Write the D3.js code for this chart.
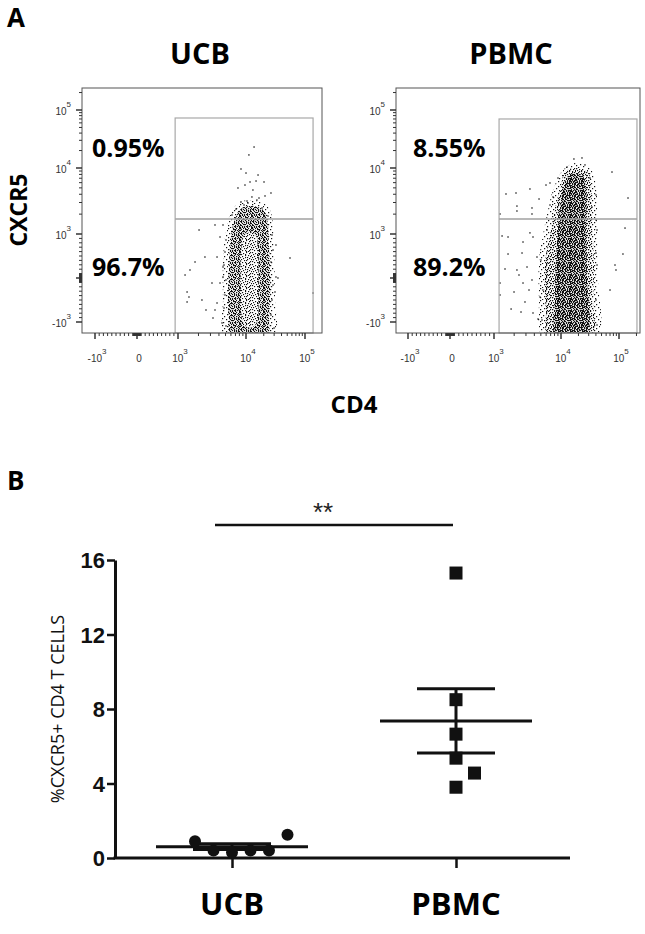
<!DOCTYPE html>
<html><head><meta charset="utf-8">
<script src="https://cdn.jsdelivr.net/npm/d3@7"></script>
<style>body{margin:0;background:#fff}svg{display:block}</style>
</head><body>
<svg id="c" width="645" height="934"></svg>
<script>
// ================= DATA =================
// Panel A: flow cytometry (CD4 vs CXCR5)
const flowSamples = ["UCB", "PBMC"];
const upperPct = [0.95, 8.55];   // CXCR5+ quadrant
const lowerPct = [96.7, 89.2];   // CXCR5- quadrant
const axisMajorTicks = [-1000, 0, 1000, 10000, 100000];
const xTickLabels = [["-10", "3"], ["0", ""], ["10", "3"], ["10", "4"], ["10", "5"]];
const yTickValues = [-1000, 1000, 10000, 100000];
const yTickLabels = [["-10", "3"], ["10", "3"], ["10", "4"], ["10", "5"]];
// gates [CD4 min, CD4 max, CXCR5 max, CXCR5 split]
const gateUCB = [930, 137000, 72800, 1690];
const gatePBMC = [1190, 204000, 70000, 1690];

// dense event clouds: outlines [CD4, CXCR5] with a density level
const ucbZones = [
  { level: "light", pts: [[11700,3270],[18700,3050],[25500,2310],[28700,1370],[29900,636],[31000,-500],[29900,-2080],[4750,-2080],[4590,-500],[4590,409],[5080,1150],[6220,2310],[8170,3050]] },
  { level: "dense", pts: [[11700,2650],[16000,2560],[21000,2150],[23600,1370],[24500,750],[25500,182],[25500,-500],[24500,-955],[23600,-2080],[5820,-2080],[5620,-955],[5430,-500],[5620,182],[5820,750],[6440,1370],[7620,2150],[9350,2560]] },
  { level: "medium", pts: [[11700,1070],[14800,955],[16000,523],[16000,-273],[15300,-1000],[11700,-1370],[9040,-1000],[8440,-273],[8440,523],[9350,955]] }
];
const pbmcZones = [
  { level: "light", pts: [[17400,12200],[31600,10000],[40100,5520],[41800,1150],[43500,-45],[41800,-2080],[5200,-2080],[4700,-500],[4700,409],[5380,977],[6400,2310],[7600,4640],[10800,9330]] },
  { level: "medium", pts: [[11700,8700],[17400,10000],[29200,8700],[32900,5520],[34200,2310],[35600,864],[37100,182],[35600,-500],[34200,-2080],[6400,-2080],[5970,-727],[5570,-45],[5970,523],[6850,977],[7600,1750],[8710,3270],[10000,5520]] },
  { level: "dense", pts: [[13200,7570],[23000,7830],[27000,4640],[27000,1150],[28100,-45],[27000,-2080],[8410,-2080],[8130,-500],[8410,409],[9020,1150],[10000,3270],[11300,5520]] }
];
// individual scattered events [CD4, CXCR5]
const ucbEvents = [[13700,23000],[11200,16800],[8440,9660],[10000,8390],[16000,7830],[11700,6140],[14800,6350],[20200,6140],[7620,4980],[9660,5520],[13100,4640],[26500,4180],[21000,3770],[16600,3510],[8440,3050],[10400,3160],[15300,3270],[12600,3640],
[2040,1150],[3500,1370],[4590,1370],[4150,932],[2490,477],[1780,364],[1500,182],[1270,68],[3750,477],[4590,250],[3160,-114],[4590,23],[1360,-318],[1450,-432],[1360,-545],[2250,-500],[2580,-727],[3500,-727],[3270,-909],[4440,-1050],[3750,-568],[4150,-114],
[32200,750],[55700,455],[32200,23],[34800,0],[31000,-318],[137000,-341],
[5080,864],[4910,591],[4750,295],[5080,-45],[4910,-386],[4750,-682],[5080,-1230],[27600,977],[28700,636],[26500,364],[28700,-159],[27600,-500],[26500,-841],[29900,-1370],[7130,2390],[18700,2480],[6220,1940],[23600,1870],[10800,2950],[9350,2750]];
const pbmcEvents = [[1510,4040],[2130,4180],[2200,2650],[2200,2230],[3440,4810],[3690,2480],[4700,3390],[5970,5520],[6850,5930],[7600,3640],[3690,2010],[1230,2010],
[16700,14300],[23000,14900],[12700,10400],
[40100,3900],[75700,8690],[143000,3510],[34200,2560],
[1320,955],[1620,932],[3440,1040],[3820,932],[2710,818],[1620,545],[2620,568],[2200,182],[3110,250],[2360,68],[1460,205],[4380,477],[3690,-45],[2710,-114],[1990,-318],[3330,-273],[4860,-432],[1800,-705],[2900,-545],[2530,-773],[3820,-795],[4540,-932],[1230,-386],[1230,-114],
[40100,568],[85300,295],[88700,182],[127000,1230],[70000,-273],[117000,545],[41800,1150],
[5020,409],[5380,-273],[5200,-955],[40100,1630],[41800,295],[40100,-500],[41800,-1170],[6850,2750],[9020,7050],[31600,7050],[25900,11300],[6180,1150]];

// Panel B: %CXCR5+ CD4 T cells
const groups = ["UCB", "PBMC"];
const ucbValues = [0.9, 0.4, 0.3, 0.4, 0.4, 1.25];
const pbmcValues = [15.3, 8.5, 6.65, 5.36, 4.56, 3.8];
const ucbSpread = [-2, -1, 0, 1, 2, 3];
const pbmcSpread = [0, 0, 0, 0, 1, 0];
const yTicksB = [0, 4, 8, 12, 16];
const significance = "**";

// ================= DRAW =================
const svg = d3.select("#c");
const SANS = "'Open Sans', 'Noto Sans', sans-serif";
const ARIAL = "'Liberation Sans', Arial, sans-serif";

// texture patterns for dense event clouds (style only)
const tiles = {
  dense: [
    "#..#.#..#..#",
    ".#...#.#..#.",
    "#..#...#.#..",
    "..#.#.#...#.",
    ".#...#..#..#",
    "#..#..#...#.",
    ".#..#...#.#.",
    "..#...#.#..#",
    "#..#.#...#..",
    ".#.....#..#.",
    "..#.#.#..#.#",
    "#...#..#...#"],
  medium: [
    "#.....#...#.",
    "...#.....#..",
    ".#...#......",
    ".....#..#..#",
    "..#.......#.",
    "#....#.#....",
    "...#.....#..",
    ".#.....#...#",
    "....#.#.....",
    "#.........#.",
    "..#..#...#..",
    "......#.#..."],
  light: [
    "#...........",
    "......#.....",
    "...........#",
    "...#........",
    "........#...",
    ".#..........",
    "......#.....",
    "..........#.",
    "....#.......",
    "#...........",
    ".......#....",
    "..#........."]
};
const dotSize = { dense: 1.15, medium: 1.15, light: 1.2 };
const defs = svg.append("defs");
Object.entries(tiles).forEach(([name, rows]) => {
  const p = defs.append("pattern").attr("id", "pat-" + name)
    .attr("patternUnits", "userSpaceOnUse").attr("width", 12).attr("height", 12);
  rows.forEach((r, j) => r.split("").forEach((ch, i) => {
    if (ch === "#") p.append("rect").attr("x", i).attr("y", j)
      .attr("width", dotSize[name]).attr("height", dotSize[name]).attr("fill", "#111");
  }));
});

// logicle-like display transform: -10^3 ->1, 0 ->2, 10^3 ->3, 10^4 ->4, 10^5 ->5
function lg(v) {
  if (v >= 1000) return Math.log10(v);
  if (v > -1000) return 2 + v / 1000;
  return 1 - Math.log10(-v / 1000);
}

const panels = [
  { frame: [82, 88, 322, 333], xr: [95, 137, 178, 246, 305], title: 200, zones: ucbZones, events: ucbEvents, gate: gateUCB, lab: 92 },
  { frame: [396, 88, 640, 333], xr: [408, 450, 494, 561, 619], title: 511, zones: pbmcZones, events: pbmcEvents, gate: gatePBMC, lab: 413 }
];
const yr = [322, 278, 234, 168, 110];

// minor ticks
const minor = [];
[1000, 10000, 100000].forEach(d => { for (let k = 2; k <= 9; k++) minor.push(k * d); });
for (let k = 1; k <= 9; k++) { minor.push(k * 100, -k * 100, k * 10, -k * 10); }

panels.forEach((P, i) => {
  const [x0, y0, x1, y1] = P.frame;
  const xs = d3.scaleLinear().domain([1, 2, 3, 4, 5]).range(P.xr);
  const ys = d3.scaleLinear().domain([1, 2, 3, 4, 5]).range(yr);
  const X = v => xs(lg(v)), Y = v => ys(lg(v));
  const g = svg.append("g");
  const clipId = "clip" + i;
  defs.append("clipPath").attr("id", clipId).append("rect")
    .attr("x", x0).attr("y", y0).attr("width", x1 - x0).attr("height", y1 - y0);
  const plot = g.append("g").attr("clip-path", `url(#${clipId})`);

  const line = d3.line().x(d => X(d[0])).y(d => Y(d[1])).curve(d3.curveCatmullRomClosed.alpha(0.5));
  P.zones.forEach(z => {
    if (z.level === "medium" && i === 0) plot.append("path").attr("d", line(z.pts)).attr("fill", "#fff");
    plot.append("path").attr("d", line(z.pts)).attr("fill", `url(#pat-${z.level})`);
  });
  plot.selectAll("rect.ev").data(P.events).join("rect").attr("class", "ev")
    .attr("x", d => X(d[0]) - 0.7).attr("y", d => Y(d[1]) - 0.7)
    .attr("width", 1.4).attr("height", 1.4).attr("fill", "#222");

  // gates
  const [gx0, gx1, gyMax, gySplit] = P.gate;
  g.append("rect").attr("x", X(gx0)).attr("y", Y(gyMax))
    .attr("width", X(gx1) - X(gx0)).attr("height", y1 - Y(gyMax))
    .attr("fill", "none").attr("stroke", "#a8a8a8").attr("stroke-width", 1.2);
  g.append("line").attr("x1", X(gx0)).attr("x2", X(gx1)).attr("y1", Y(gySplit)).attr("y2", Y(gySplit))
    .attr("stroke", "#a0a0a0").attr("stroke-width", 1.6);

  // frame
  g.append("rect").attr("x", x0).attr("y", y0).attr("width", x1 - x0).attr("height", y1 - y0)
    .attr("fill", "none").attr("stroke", "#555").attr("stroke-width", 1);

  // ticks
  const tickG = g.append("g").attr("stroke", "#333").attr("stroke-width", 1);
  minor.forEach(v => {
    const px = X(v);
    if (px > x0 + 1 && px < x1) tickG.append("line").attr("x1", px).attr("x2", px).attr("y1", y1).attr("y2", y1 + 3);
    const py = Y(v);
    if (py > y0 && py < y1 - 1) tickG.append("line").attr("y1", py).attr("y2", py).attr("x1", x0).attr("x2", x0 - 3);
  });
  axisMajorTicks.forEach(v => {
    tickG.append("line").attr("x1", X(v)).attr("x2", X(v)).attr("y1", y1).attr("y2", y1 + 6).attr("stroke-width", 1.5);
    tickG.append("line").attr("y1", Y(v)).attr("y2", Y(v)).attr("x1", x0).attr("x2", x0 - 6).attr("stroke-width", 1.5);
  });
  // tick labels
  axisMajorTicks.forEach((v, k) => {
    const t = g.append("text").attr("x", X(v) + 2).attr("y", 362).attr("text-anchor", "middle")
      .attr("font-family", ARIAL).attr("font-size", 10).attr("fill", "#333");
    t.append("tspan").text(xTickLabels[k][0]);
    if (xTickLabels[k][1]) t.append("tspan").attr("dy", -8).attr("font-size", 8).text(xTickLabels[k][1]);
  });
  yTickValues.forEach((v, k) => {
    const t = g.append("text").attr("x", x0 - 11).attr("y", Y(v) + 5).attr("text-anchor", "end")
      .attr("font-family", ARIAL).attr("font-size", 10).attr("fill", "#333");
    t.append("tspan").text(yTickLabels[k][0]);
    t.append("tspan").attr("dy", -8).attr("font-size", 8).text(yTickLabels[k][1]);
  });

  // title & percentages
  g.append("text").attr("x", P.title).attr("y", 64).attr("text-anchor", "middle")
    .attr("font-family", SANS).attr("font-weight", 700).attr("font-size", 29).text(flowSamples[i]);
  g.append("text").attr("x", P.lab).attr("y", 157).attr("font-family", SANS).attr("font-weight", 700)
    .attr("font-size", 25).text(upperPct[i] + "%");
  g.append("text").attr("x", P.lab).attr("y", 276).attr("font-family", SANS).attr("font-weight", 700)
    .attr("font-size", 25).text(lowerPct[i] + "%");
});

// panel A labels
svg.append("text").attr("x", 7).attr("y", 27).attr("font-family", SANS).attr("font-weight", 700).attr("font-size", 26).text("A");
svg.append("text").attr("transform", "translate(27,210) rotate(-90)").attr("text-anchor", "middle")
  .attr("font-family", SANS).attr("font-weight", 700).attr("font-size", 23).text("CXCR5");
svg.append("text").attr("x", 354).attr("y", 413).attr("text-anchor", "middle")
  .attr("font-family", SANS).attr("font-weight", 700).attr("font-size", 24).text("CD4");

// ================= PANEL B =================
svg.append("text").attr("x", 7).attr("y", 490).attr("font-family", SANS).attr("font-weight", 700).attr("font-size", 26).text("B");

const yB = d3.scaleLinear().domain([0, 16]).range([858, 560]);
const xB = d3.scalePoint().domain(groups).range([232, 456]);
const spreadPx = 18.5;

// y axis
const ay = svg.append("g").attr("transform", "translate(115,0)")
  .call(d3.axisLeft(yB).tickValues(yTicksB).tickSize(8).tickSizeOuter(0).tickPadding(2));
ay.select(".domain").attr("stroke", "#111").attr("stroke-width", 3);
ay.selectAll(".tick line").attr("stroke", "#111").attr("stroke-width", 2.5);
ay.selectAll(".tick text").attr("font-family", ARIAL).attr("font-weight", 700).attr("font-size", 22).attr("fill", "#111").attr("dy", "0.36em");

// x axis
svg.append("line").attr("x1", 113.5).attr("x2", 570).attr("y1", yB(0)).attr("y2", yB(0))
  .attr("stroke", "#111").attr("stroke-width", 3);
const ax = svg.append("g").attr("transform", `translate(0,${yB(0)})`)
  .call(d3.axisBottom(xB).tickSize(10).tickFormat(""));
ax.select(".domain").remove();
ax.selectAll(".tick line").attr("stroke", "#111").attr("stroke-width", 2.5);

groups.forEach(gname => {
  svg.append("text").attr("x", xB(gname)).attr("y", 915).attr("text-anchor", "middle")
    .attr("font-family", SANS).attr("font-weight", 700).attr("font-size", 31).text(gname);
});

svg.append("text").attr("transform", "translate(64,709) rotate(-90)").attr("text-anchor", "middle")
  .attr("font-family", SANS).attr("font-size", 18).attr("fill", "#111").text("%CXCR5+ CD4 T CELLS");

// mean and SEM
function stats(vals) {
  const m = d3.mean(vals);
  const sem = d3.deviation(vals) / Math.sqrt(vals.length);
  return { m, sem };
}
const series = [
  { g: "UCB", vals: ucbValues, spread: ucbSpread, shape: "circle" },
  { g: "PBMC", vals: pbmcValues, spread: pbmcSpread, shape: "square" }
];
series.forEach(s => {
  const cx = xB(s.g);
  const { m, sem } = stats(s.vals);
  const G = svg.append("g").attr("stroke", "#111").attr("stroke-width", 3);
  G.append("line").attr("x1", cx).attr("x2", cx).attr("y1", yB(m - sem)).attr("y2", yB(m + sem));
  [m - sem, m + sem].forEach(v => G.append("line").attr("x1", cx - 39).attr("x2", cx + 39).attr("y1", yB(v)).attr("y2", yB(v)));
  G.append("line").attr("x1", cx - 76).attr("x2", cx + 76).attr("y1", yB(m)).attr("y2", yB(m));
  if (s.shape === "circle") {
    svg.selectAll(null).data(s.vals).join("circle")
      .attr("cx", (d, i) => cx + s.spread[i] * spreadPx).attr("cy", d => yB(d)).attr("r", 6).attr("fill", "#111");
  } else {
    svg.selectAll(null).data(s.vals).join("rect")
      .attr("x", (d, i) => cx + s.spread[i] * spreadPx - 6.5).attr("y", d => yB(d) - 6.5)
      .attr("width", 13).attr("height", 13).attr("fill", "#111");
  }
});

// significance bar
svg.append("line").attr("x1", 215).attr("x2", 453).attr("y1", 525).attr("y2", 525).attr("stroke", "#111").attr("stroke-width", 2.5);
svg.append("text").attr("x", 323).attr("y", 521).attr("text-anchor", "middle")
  .attr("font-family", ARIAL).attr("font-size", 26).attr("fill", "#222").text(significance);
</script>
</body></html>
